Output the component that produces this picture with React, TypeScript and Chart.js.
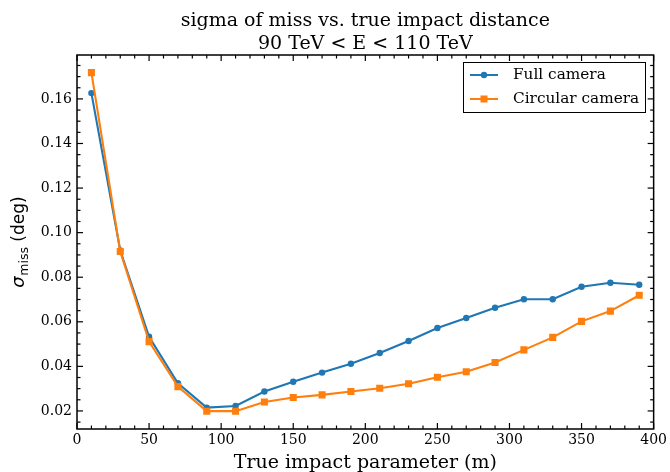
import React, { useEffect, useRef } from "react";
import { Chart, registerables } from "chart.js";

Chart.register(...registerables);

const impact = [10, 30, 50, 70, 90, 110, 130, 150, 170, 190, 210, 230, 250, 270, 290, 310, 330, 350, 370, 390];
const fullCamera = [0.1626, 0.092, 0.0533, 0.0324, 0.0215, 0.0222, 0.0287, 0.0331, 0.0372, 0.0412, 0.046, 0.0514, 0.0572, 0.0617, 0.0663, 0.0701, 0.0701, 0.0757, 0.0775, 0.0766];
const circularCamera = [0.1718, 0.0915, 0.0511, 0.0309, 0.0199, 0.0199, 0.024, 0.026, 0.0272, 0.0287, 0.0302, 0.0322, 0.0351, 0.0376, 0.0417, 0.0474, 0.053, 0.0602, 0.0648, 0.0719];
const xTicks = [0, 50, 100, 150, 200, 250, 300, 350, 400];
const yTicks = [0.02, 0.04, 0.06, 0.08, 0.1, 0.12, 0.14, 0.16];
const seriesNames = ["Full camera", "Circular camera"];
const titleLines = ["sigma of miss vs. true impact distance", "90 TeV < E < 110 TeV"];
const xTitle = "True impact parameter (m)";

const BLUE = "#1f77b4";
const ORANGE = "#ff7f0e";
const FONT = "'DejaVu Serif', serif";
const SANS = "'DejaVu Sans', sans-serif";

const decorPlugin = {
  id: "decor",
  afterDraw(chart: any) {
    const { ctx, chartArea } = chart;
    const { left, right, top, bottom } = chartArea;
    const xs = chart.scales.x;
    const ys = chart.scales.y;
    ctx.save();
    // frame
    ctx.strokeStyle = "#000";
    ctx.lineWidth = 1.5;
    ctx.strokeRect(left, top, right - left, bottom - top);
    // ticks
    ctx.lineWidth = 1.2;
    const tick = (x1: number, y1: number, x2: number, y2: number) => {
      ctx.beginPath();
      ctx.moveTo(x1, y1);
      ctx.lineTo(x2, y2);
      ctx.stroke();
    };
    for (let v = 0; v <= 400; v += 10) {
      const px = xs.getPixelForValue(v);
      const len = v % 50 === 0 ? 6 : 3.5;
      tick(px, bottom, px, bottom - len);
      tick(px, top, px, top + len);
    }
    for (let i = 1; i <= 36; i++) {
      const v = i * 0.005;
      if (v < ys.min || v > ys.max) continue;
      const py = ys.getPixelForValue(v);
      const len = i % 4 === 0 ? 6 : 3.5;
      tick(left, py, left + len, py);
      tick(right, py, right - len, py);
    }
    // title
    ctx.fillStyle = "#000";
    ctx.textAlign = "center";
    ctx.textBaseline = "alphabetic";
    ctx.font = `19px ${FONT}`;
    const cx = (left + right) / 2;
    ctx.fillText(titleLines[0], cx, 26);
    ctx.fillText(titleLines[1], cx, 49);
    // x title
    ctx.fillText(xTitle, cx, 468);
    // y title
    ctx.save();
    ctx.translate(18, (top + bottom) / 2);
    ctx.rotate(-Math.PI / 2);
    ctx.textAlign = "left";
    ctx.textBaseline = "alphabetic";
    const f1 = `italic 18px ${SANS}`;
    const f2 = `12.5px ${SANS}`;
    const f3 = `17px ${SANS}`;
    ctx.font = f1;
    const w1 = ctx.measureText("σ").width;
    ctx.font = f2;
    const w2 = ctx.measureText("miss").width;
    ctx.font = f3;
    const w3 = ctx.measureText(" (deg)").width;
    let x0 = -(w1 + w2 + w3 + 0.5) / 2;
    const base = 6;
    ctx.font = f1;
    ctx.fillText("σ", x0, base);
    x0 += w1 + 0.5;
    ctx.font = f2;
    ctx.fillText("miss", x0, base + 3.5);
    x0 += w2;
    ctx.font = f3;
    ctx.fillText(" (deg)", x0, base);
    ctx.restore();
    // legend
    const lx = 463, ly = 62, lw = 182, lh = 50;
    ctx.fillStyle = "rgba(255,255,255,0.9)";
    ctx.fillRect(lx, ly, lw, lh);
    ctx.strokeStyle = "#000";
    ctx.lineWidth = 1;
    ctx.strokeRect(lx + 0.5, ly + 0.5, lw, lh);
    const rows = [
      { y: 75, color: BLUE, shape: "circle" },
      { y: 99, color: ORANGE, shape: "rect" },
    ];
    rows.forEach((r, i) => {
      ctx.strokeStyle = r.color;
      ctx.lineWidth = 2;
      ctx.beginPath();
      ctx.moveTo(470, r.y);
      ctx.lineTo(498, r.y);
      ctx.stroke();
      ctx.fillStyle = r.color;
      if (r.shape === "circle") {
        ctx.beginPath();
        ctx.arc(484, r.y, 3.2, 0, Math.PI * 2);
        ctx.fill();
      } else {
        ctx.fillRect(480.5, r.y - 3.5, 7, 7);
      }
      ctx.fillStyle = "#000";
      ctx.font = `15.3px ${FONT}`;
      ctx.textAlign = "left";
      ctx.textBaseline = "middle";
      ctx.fillText(seriesNames[i], 513, r.y);
    });
    ctx.restore();
  },
};

export default function App() {
  const ref = useRef<HTMLCanvasElement | null>(null);
  useEffect(() => {
    document.body.style.margin = "0";
    const canvas = ref.current;
    if (!canvas) return;
    const chart = new Chart(canvas, {
      type: "line",
      data: {
        datasets: [
          {
            label: seriesNames[0],
            data: impact.map((x, i) => ({ x, y: fullCamera[i] })),
            borderColor: BLUE,
            backgroundColor: BLUE,
            borderWidth: 2.1,
            pointStyle: "circle",
            pointRadius: 3.2,
            pointBorderWidth: 0,
            tension: 0,
            order: 1,
          },
          {
            label: seriesNames[1],
            data: impact.map((x, i) => ({ x, y: circularCamera[i] })),
            borderColor: ORANGE,
            backgroundColor: ORANGE,
            borderWidth: 2.1,
            pointStyle: "rect",
            pointRadius: 5,
            pointBorderWidth: 0,
            tension: 0,
            order: 0,
          },
        ],
      },
      options: {
        animation: false,
        responsive: false,
        maintainAspectRatio: false,
        layout: { padding: { left: 0, right: 15, top: 55, bottom: 0 } },
        plugins: {
          legend: { display: false },
          title: { display: false },
          tooltip: { enabled: false },
        },
        scales: {
          x: {
            type: "linear",
            min: 0,
            max: 400,
            grid: { display: false, drawTicks: false },
            border: { display: false },
            afterBuildTicks: (s: any) => {
              s.ticks = xTicks.map((v) => ({ value: v }));
            },
            afterFit: (s: any) => {
              s.height = 43;
            },
            ticks: {
              color: "#000",
              font: { family: FONT, size: 14 },
              padding: 3,
              maxRotation: 0,
              callback: (v: any) => String(v),
            },
          },
          y: {
            type: "linear",
            min: 0.0119,
            max: 0.1797,
            grid: { display: false, drawTicks: false },
            border: { display: false },
            afterBuildTicks: (s: any) => {
              s.ticks = yTicks.map((v) => ({ value: v }));
            },
            afterFit: (s: any) => {
              s.width = 77;
            },
            ticks: {
              color: "#000",
              font: { family: FONT, size: 14 },
              padding: 5,
              callback: (v: any) => Number(v).toFixed(2),
            },
          },
        },
      },
      plugins: [decorPlugin],
    } as any);
    return () => chart.destroy();
  }, []);
  return (
    <div style={{ position: "absolute", left: 0, top: 0, width: 670, height: 472 }}>
      <canvas ref={ref} width={670} height={472} style={{ width: 670, height: 472 }} />
    </div>
  );
}
